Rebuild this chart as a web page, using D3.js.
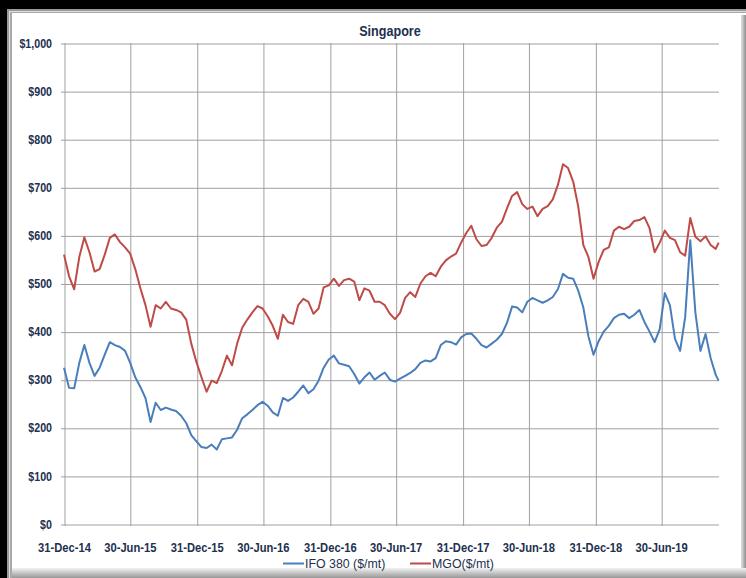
<!DOCTYPE html>
<html>
<head>
<meta charset="utf-8">
<script src="https://cdn.jsdelivr.net/npm/d3@7"></script>
<style>
  html, body { margin: 0; padding: 0; background: #000; }
  svg { display: block; }
  text { font-family: "Liberation Sans", Arial, sans-serif; }
</style>
</head>
<body>
<svg id="chart" width="746" height="578"></svg>
<script>
// Fortnightly price samples, Singapore bunker market
const dates = [
  "2014-12-31","2015-01-14","2015-01-28","2015-02-11","2015-02-25","2015-03-11","2015-03-25","2015-04-08",
  "2015-04-22","2015-05-06","2015-05-20","2015-06-03","2015-06-17","2015-07-01","2015-07-15","2015-07-29",
  "2015-08-12","2015-08-26","2015-09-09","2015-09-23","2015-10-07","2015-10-21","2015-11-04","2015-11-18",
  "2015-12-02","2015-12-16","2015-12-30","2016-01-13","2016-01-27","2016-02-10","2016-02-24","2016-03-09",
  "2016-03-23","2016-04-06","2016-04-20","2016-05-04","2016-05-18","2016-06-01","2016-06-15","2016-06-29",
  "2016-07-13","2016-07-27","2016-08-10","2016-08-24","2016-09-07","2016-09-21","2016-10-05","2016-10-19",
  "2016-11-02","2016-11-16","2016-11-30","2016-12-14","2016-12-28","2017-01-11","2017-01-25","2017-02-08",
  "2017-02-22","2017-03-08","2017-03-22","2017-04-05","2017-04-19","2017-05-03","2017-05-17","2017-05-31",
  "2017-06-14","2017-06-28","2017-07-12","2017-07-26","2017-08-09","2017-08-23","2017-09-06","2017-09-20",
  "2017-10-04","2017-10-18","2017-11-01","2017-11-15","2017-11-29","2017-12-13","2017-12-27","2018-01-10",
  "2018-01-24","2018-02-07","2018-02-21","2018-03-07","2018-03-21","2018-04-04","2018-04-18","2018-05-02",
  "2018-05-16","2018-05-30","2018-06-13","2018-06-27","2018-07-11","2018-07-25","2018-08-08","2018-08-22",
  "2018-09-05","2018-09-19","2018-10-03","2018-10-17","2018-10-31","2018-11-14","2018-11-28","2018-12-12",
  "2018-12-26","2019-01-09","2019-01-23","2019-02-06","2019-02-20","2019-03-06","2019-03-20","2019-04-03",
  "2019-04-17","2019-05-01","2019-05-15","2019-05-29","2019-06-12","2019-06-26","2019-07-10","2019-07-24",
  "2019-08-07","2019-08-21","2019-09-04","2019-09-18","2019-10-02","2019-10-16","2019-10-30","2019-11-13",
  "2019-11-27","2019-12-05"
];

const ifo380 = [
  325,283,282,335,372,335,308,325,352,378,372,368,360,335,305,285,
  262,212,252,237,242,238,235,225,210,185,172,160,158,165,155,176,
  178,180,196,220,228,237,247,254,246,232,225,262,256,263,275,288,
  272,280,298,325,342,350,334,331,328,312,292,305,315,300,308,315,
  300,296,302,308,314,322,335,340,338,345,372,380,378,373,388,395,
  396,385,372,367,375,383,395,418,452,450,440,462,470,465,460,465,
  472,488,520,512,510,485,450,390,352,380,400,412,428,435,437,428,
  435,445,420,400,378,405,480,455,385,360,430,590,440,360,395,345,
  310,298
];

const mgo = [
  560,515,488,555,596,565,525,530,560,595,602,586,575,562,530,490,
  455,410,455,448,462,448,445,440,425,375,337,305,275,298,293,318,
  350,330,375,408,425,440,453,448,432,412,385,435,420,416,455,468,
  462,437,448,492,496,510,495,507,510,504,465,490,485,462,462,455,
  437,426,439,470,482,472,500,515,522,515,535,548,556,562,585,605,
  620,592,578,580,595,616,628,656,682,690,665,655,660,640,655,661,
  675,705,748,740,712,660,580,555,510,545,570,575,610,618,613,618,
  630,632,638,615,565,585,610,595,590,565,558,636,597,588,598,580,
  572,585
];

const seriesNames = ["IFO 380 ($/mt)", "MGO($/mt)"];
const seriesColors = ["#4a7ebb", "#be4b48"];
const yTicks = [0, 100, 200, 300, 400, 500, 600, 700, 800, 900, 1000];
const xTickDates = ["2014-12-31","2015-06-30","2015-12-31","2016-06-30","2016-12-31",
                    "2017-06-30","2017-12-31","2018-06-30","2018-12-31","2019-06-30"];
const chartTitle = "Singapore";

const W = 746, H = 578;
const plot = { left: 64, right: 719, top: 43, bottom: 524 };
const textColor = "#22304f";
const gridColor = "#a0a0a0";

const parse = d3.utcParse("%Y-%m-%d");
const svg = d3.select("#chart");

// squeeze text horizontally to a narrow face, keeping its height
function condense(sel, factor) {
  sel.each(function () {
    const len = this.getComputedTextLength();
    d3.select(this).attr("textLength", (len * factor).toFixed(1)).attr("lengthAdjust", "spacingAndGlyphs");
  });
}

// ---- frame with bevelled edges ----
const defs = svg.append("defs");
const gR = defs.append("linearGradient").attr("id", "shadeRight").attr("x1", 0).attr("x2", 1).attr("y1", 0).attr("y2", 0);
gR.append("stop").attr("offset", "0%").attr("stop-color", "#e4e4e4");
gR.append("stop").attr("offset", "100%").attr("stop-color", "#8e8e8e");
const gB = defs.append("linearGradient").attr("id", "shadeBottom").attr("x1", 0).attr("x2", 0).attr("y1", 0).attr("y2", 1);
gB.append("stop").attr("offset", "0%").attr("stop-color", "#f2f2f2");
gB.append("stop").attr("offset", "100%").attr("stop-color", "#979797");

svg.append("rect").attr("width", W).attr("height", H).attr("fill", "#000");
svg.append("rect").attr("x", 7).attr("y", 9).attr("width", W - 7).attr("height", H - 9).attr("fill", "#9a9a9a");
svg.append("rect").attr("x", 9).attr("y", 11).attr("width", W - 9).attr("height", H - 11).attr("fill", "#dcdcdc");
svg.append("rect").attr("x", 10).attr("y", 12).attr("width", W - 10).attr("height", H - 12).attr("fill", "#a9a9a9");
svg.append("rect").attr("x", 12).attr("y", 13).attr("width", W - 12).attr("height", H - 13).attr("fill", "#fff");
svg.append("rect").attr("x", 741).attr("y", 15).attr("width", 5).attr("height", H - 15).attr("fill", "url(#shadeRight)");
svg.append("rect").attr("x", 12).attr("y", 568).attr("width", W - 12).attr("height", 10).attr("fill", "url(#shadeBottom)");

// ---- scales ----
const x = d3.scaleUtc()
  .domain([parse("2014-12-31"), parse("2019-12-06")])
  .range([plot.left, plot.right]);
const y = d3.scaleLinear().domain([0, 1000]).range([plot.bottom, plot.top]);

// ---- gridlines via axes ----
const yAxis = d3.axisLeft(y)
  .tickValues(yTicks)
  .tickSize(-(plot.right - plot.left) - 3)
  .tickPadding(9)
  .tickFormat(d => "$" + d3.format(",")(d));
const gy = svg.append("g").attr("transform", `translate(${plot.left - 3},0)`).call(yAxis);
gy.select(".domain").remove();
gy.selectAll(".tick line").attr("stroke", gridColor).attr("stroke-width", 1)
  .attr("transform", "translate(0,0.5)");
gy.selectAll(".tick text").attr("fill", textColor).attr("font-size", 13).attr("font-weight", "bold")
  .attr("x", -9).call(condense, 0.82);

const xAxis = d3.axisBottom(x)
  .tickValues(xTickDates.map(parse))
  .tickSize(-(plot.bottom - plot.top))
  .tickPadding(12)
  .tickFormat(d3.utcFormat("%d-%b-%y"));
const gx = svg.append("g").attr("transform", `translate(0,${plot.bottom})`).call(xAxis);
gx.select(".domain").remove();
gx.selectAll(".tick line").attr("stroke", gridColor).attr("stroke-width", 1)
  .attr("transform", "translate(0.5,0)").attr("y2", -(plot.bottom - plot.top)).attr("y1", 2);
gx.selectAll(".tick text").attr("fill", textColor).attr("font-size", 13).attr("font-weight", "bold")
  .attr("y", 19).attr("dy", "0.71em").call(condense, 0.86);

// ---- series lines ----
const seriesData = [ifo380, mgo];
const line = d3.line()
  .x((d, i) => x(parse(dates[i])))
  .y(d => y(d));
seriesData.forEach((vals, k) => {
  svg.append("path")
    .datum(vals)
    .attr("fill", "none")
    .attr("stroke", seriesColors[k])
    .attr("stroke-width", 2)
    .attr("stroke-linejoin", "round")
    .attr("d", line);
});

// ---- title ----
svg.append("text")
  .attr("x", 390).attr("y", 36)
  .attr("text-anchor", "middle")
  .attr("fill", textColor)
  .attr("font-size", 15).attr("font-weight", "bold")
  .text(chartTitle)
  .call(condense, 0.84);

// ---- legend ----
const legendItems = [
  { x: 283, name: seriesNames[0], color: seriesColors[0] },
  { x: 410, name: seriesNames[1], color: seriesColors[1] }
];
const lg = svg.append("g");
legendItems.forEach(it => {
  lg.append("line")
    .attr("x1", it.x).attr("x2", it.x + 21)
    .attr("y1", 563.5).attr("y2", 563.5)
    .attr("stroke", it.color).attr("stroke-width", 2);
  lg.append("text")
    .attr("x", it.x + 22).attr("y", 568)
    .attr("fill", textColor)
    .attr("font-size", 13)
    .text(it.name)
    .call(condense, 0.95);
});
</script>
</body>
</html>
